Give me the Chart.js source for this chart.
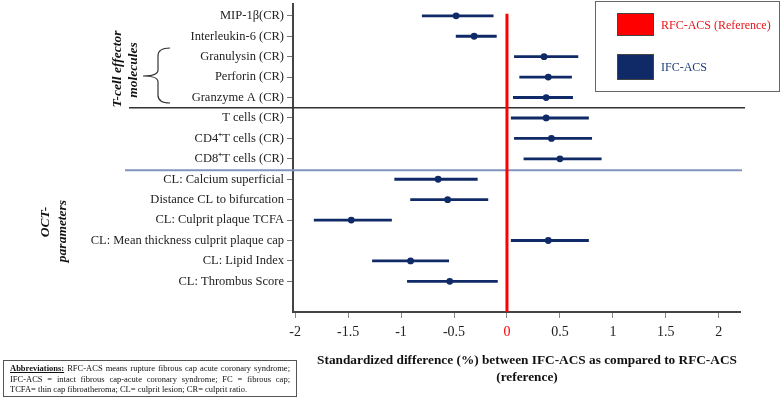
<!DOCTYPE html>
<html>
<head>
<meta charset="utf-8">
<script src="https://cdn.jsdelivr.net/npm/chart.js@4/dist/chart.umd.min.js"></script>
<style>
  body { margin: 0; background: #fff; }
  #wrap { position: relative; width: 780px; height: 397px; font-family: 'Liberation Serif', 'Times New Roman', serif; color: #111; }
  #chart { position: absolute; left: 0; top: 0; }
  .grp { position: absolute; font-weight: bold; font-style: italic; font-size: 13.5px; white-space: nowrap;
         transform: translate(-50%, -50%) rotate(-90deg); line-height: 1; }
  #legend { position: absolute; left: 595px; top: 1px; width: 183px; height: 89px; border: 1px solid #666; background: #fff; }
  #legend .sw { position: absolute; left: 21px; width: 35px; border: 1px solid #444; }
  #legend .lb { position: absolute; left: 65px; font-size: 12px; line-height: 16px; white-space: nowrap; }
  #xtitle { position: absolute; left: 297px; top: 351px; width: 460px; text-align: center; font-weight: bold; font-size: 13.3px; line-height: 17px; }
  #abbr { position: absolute; left: 3px; top: 360px; width: 280px; height: 33px; border: 1px solid #555; padding: 2px 6px 0 6px;
          font-size: 8.5px; line-height: 10.5px; }
  #abbr div { text-align: justify; text-align-last: justify; white-space: nowrap; }
  #abbr div.last { text-align-last: left; }
  #abbr b { text-decoration: underline; }
</style>
</head>
<body>
<div id="wrap">
  <canvas id="chart" width="780" height="397"></canvas>

  <svg style="position:absolute;left:0;top:0" width="780" height="397">
    <path d="M170,48 Q158,48 158,56 L158,70 Q158,76 143,76 Q158,76 158,82 L158,95 Q158,103 170,103"
          fill="none" stroke="#333" stroke-width="1.2"/>
  </svg>

  <div class="grp" style="left:117px;top:69px">T-cell effector</div>
  <div class="grp" style="left:133px;top:70px">molecules</div>
  <div class="grp" style="left:45px;top:222px">OCT-</div>
  <div class="grp" style="left:62px;top:231px">parameters</div>

  <div id="legend">
    <div class="sw" style="top:11px;height:21px;background:#ff0000"></div>
    <div class="lb" style="top:15px;color:#e8141b">RFC-ACS (Reference)</div>
    <div class="sw" style="top:52px;height:24px;background:#0f2a66"></div>
    <div class="lb" style="top:57px;color:#1d3a7c">IFC-ACS</div>
  </div>

  <div id="xtitle">Standardized difference (%) between IFC-ACS as compared to RFC-ACS<br>(reference)</div>

  <div id="abbr">
    <div><b>Abbreviations:</b> RFC-ACS means rupture fibrous cap acute coronary syndrome;</div>
    <div>IFC-ACS = intact fibrous cap-acute coronary syndrome; FC = fibrous cap;</div>
    <div class="last">TCFA= thin cap fibroatheroma; CL= culprit lesion; CR= culprit ratio.</div>
  </div>
</div>

<script>
// rows, top to bottom
const rowLabels = [
    'MIP-1β(CR)', 'Interleukin-6 (CR)', 'Granulysin (CR)', 'Perforin (CR)', 'Granzyme A (CR)',
    'T cells (CR)', 'CD4⁺T cells (CR)', 'CD8⁺T cells (CR)',
    'CL: Calcium superficial', 'Distance CL to bifurcation', 'CL: Culprit plaque TCFA',
    'CL: Mean thickness culprit plaque cap', 'CL: Lipid Index', 'CL: Thrombus Score'
];
const estimates = [-0.48, -0.31, 0.35, 0.39, 0.37, 0.37, 0.42, 0.50, -0.65, -0.56, -1.47, 0.39, -0.91, -0.54];
const lower     = [-0.80, -0.48, 0.07, 0.12, 0.06, 0.04, 0.07, 0.16, -1.06, -0.91, -1.82, 0.04, -1.27, -0.94];
const upper     = [-0.13, -0.10, 0.67, 0.61, 0.62, 0.77, 0.80, 0.89, -0.28, -0.18, -1.09, 0.77, -0.55, -0.09];
const xTicks = [-2, -1.5, -1, -0.5, 0, 0.5, 1, 1.5, 2];

const navy = '#0f2a66';
const serif = "'Liberation Serif', 'Times New Roman', serif";

// section separators (between Granzyme A / T cells and CD8 / OCT rows)
const sectionLines = {
    id: 'sectionLines',
    beforeDatasetsDraw(chart) {
        const { ctx, scales: { y } } = chart;
        ctx.save();
        let py = y.getPixelForValue(4.5);
        ctx.strokeStyle = '#333';
        ctx.lineWidth = 1.3;
        ctx.beginPath(); ctx.moveTo(129, py); ctx.lineTo(745, py); ctx.stroke();
        py = y.getPixelForValue(7.56);
        ctx.strokeStyle = '#7f95bb';
        ctx.lineWidth = 2;
        ctx.beginPath(); ctx.moveTo(125, py); ctx.lineTo(742, py); ctx.stroke();
        ctx.restore();
    }
};

const ctx = document.getElementById('chart').getContext('2d');
new Chart(ctx, {
    type: 'bar',
    data: {
        datasets: [
            {
                type: 'bar',
                label: 'CI',
                data: rowLabels.map((_, i) => ({ y: i, x: [lower[i], upper[i]] })),
                backgroundColor: navy,
                borderWidth: 0,
                barThickness: 2.2,
                order: 2
            },
            {
                type: 'scatter',
                label: 'IFC-ACS',
                data: rowLabels.map((_, i) => ({ x: estimates[i], y: i })),
                backgroundColor: navy,
                borderWidth: 0,
                pointRadius: 3.4,
                order: 1
            },
            {
                type: 'line',
                label: 'RFC-ACS (Reference)',
                data: [{ x: 0, y: -0.1 }, { x: 0, y: 14.5 }],
                borderColor: '#ff0000',
                borderWidth: 3,
                pointRadius: 0,
                order: 0
            }
        ]
    },
    options: {
        indexAxis: 'y',
        responsive: false,
        devicePixelRatio: 1,
        animation: false,
        layout: { padding: { left: 0, right: 40, top: 0, bottom: 0 } },
        plugins: { legend: { display: false }, tooltip: { enabled: false } },
        scales: {
            x: {
                type: 'linear',
                min: -2.02,
                max: 2.2,
                offset: false,
                afterBuildTicks: s => { s.ticks = xTicks.map(v => ({ value: v })); },
                afterFit: s => { s.height = 85; s.paddingLeft = 0; s.paddingRight = 0; },
                grid: { drawOnChartArea: false, offset: false, tickLength: 6, color: '#888' },
                border: { color: '#444', width: 2 },
                ticks: {
                    padding: 6,
                    font: { family: serif, size: 14 },
                    color: c => c.tick && c.tick.value === 0 ? '#ff0000' : '#222',
                    callback: v => String(v)
                }
            },
            y: {
                type: 'linear',
                reverse: true,
                min: -0.58,
                max: 14.5,
                offset: false,
                afterBuildTicks: s => { s.ticks = rowLabels.map((_, i) => ({ value: i })); },
                afterFit: s => { s.width = 293; s.paddingTop = 0; s.paddingBottom = 0; },
                grid: { drawOnChartArea: false, offset: false, tickLength: 6, color: '#777' },
                border: { color: '#444', width: 2 },
                ticks: {
                    padding: 3,
                    font: { family: serif, size: 12.5 },
                    color: '#222',
                    callback: v => rowLabels[v] ?? ''
                }
            }
        }
    },
    plugins: [sectionLines]
});
</script>
</body>
</html>
